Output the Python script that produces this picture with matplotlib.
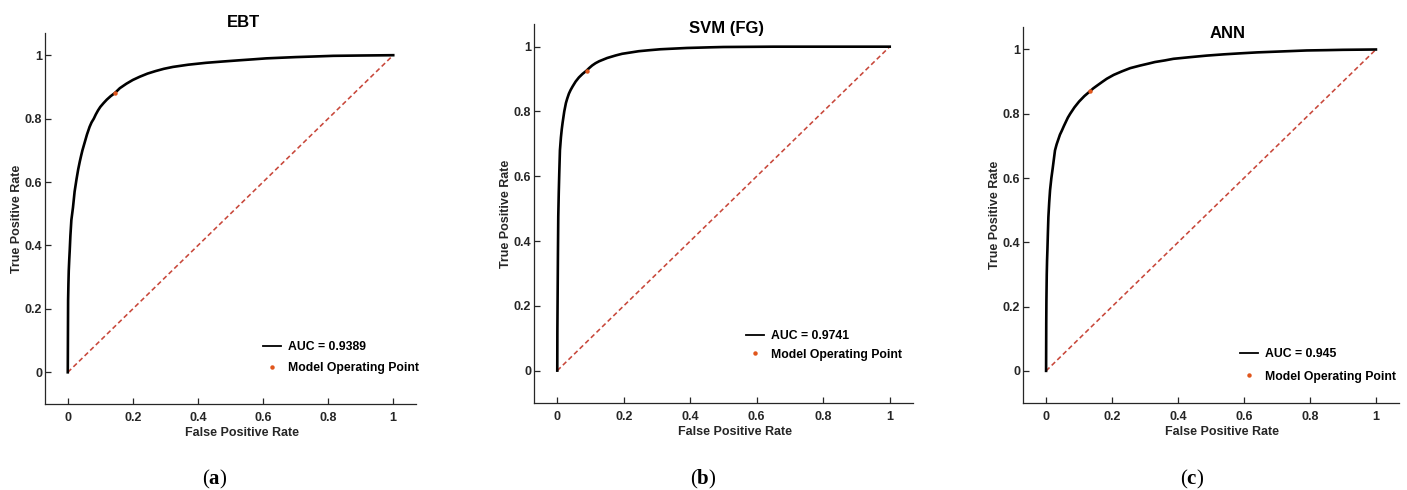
import matplotlib
matplotlib.use("Agg")
import matplotlib.pyplot as plt

plt.rcParams['font.family'] = ['Liberation Sans', 'DejaVu Sans']
plt.rcParams['mathtext.fontset'] = 'custom'
plt.rcParams['mathtext.rm'] = 'Liberation Serif'
plt.rcParams['mathtext.bf'] = 'Liberation Serif:bold'

# ---------------- data ----------------
titles = ["EBT", "SVM (FG)", "ANN"]
panel_labels = ["a", "b", "c"]
auc_values = ["0.9389", "0.9741", "0.945"]

ebt_fpr = [0, 0.0005, 0.001, 0.002, 0.003, 0.0045, 0.006, 0.008, 0.011, 0.0135, 0.016, 0.0185,
           0.021, 0.024, 0.027, 0.032, 0.037, 0.041, 0.045, 0.052, 0.059, 0.067, 0.073, 0.08,
           0.086, 0.093, 0.1, 0.11, 0.12, 0.132, 0.145, 0.16, 0.18, 0.2, 0.221, 0.245, 0.27,
           0.295, 0.323, 0.37, 0.425, 0.475, 0.528, 0.57, 0.61, 0.655, 0.70, 0.76, 0.816,
           0.86, 0.9, 0.95, 1.0]
ebt_tpr = [0, 0.12, 0.227, 0.28, 0.32, 0.355, 0.385, 0.43, 0.48, 0.50, 0.52, 0.545,
           0.57, 0.59, 0.61, 0.64, 0.665, 0.683, 0.70, 0.725, 0.75, 0.774, 0.788, 0.80,
           0.813, 0.826, 0.837, 0.849, 0.86, 0.871, 0.881, 0.896, 0.91, 0.922, 0.932, 0.942, 0.95,
           0.957, 0.963, 0.97, 0.976, 0.98, 0.984, 0.987, 0.99, 0.992, 0.994, 0.996, 0.998,
           0.9985, 0.999, 0.9995, 1.0]

svm_fpr = [0, 0.0003, 0.001, 0.002, 0.003, 0.0045, 0.006, 0.008, 0.011, 0.0135, 0.016, 0.021,
           0.026, 0.03, 0.035, 0.04, 0.046, 0.055, 0.065, 0.076, 0.088, 0.096, 0.105, 0.115,
           0.126, 0.138, 0.15, 0.163, 0.176, 0.195, 0.22, 0.245, 0.276, 0.31, 0.35, 0.39,
           0.426, 0.46, 0.5, 0.577, 0.65, 0.75, 0.85, 1.0]
svm_tpr = [0, 0.12, 0.22, 0.36, 0.476, 0.55, 0.61, 0.68, 0.72, 0.745, 0.765, 0.80,
           0.826, 0.84, 0.855, 0.866, 0.877, 0.892, 0.905, 0.916, 0.926, 0.934, 0.942, 0.949,
           0.955, 0.96, 0.965, 0.969, 0.973, 0.978, 0.982, 0.986, 0.989, 0.992, 0.994, 0.996,
           0.997, 0.998, 0.999, 0.9995, 1.0, 1.0, 1.0, 1.0]

ann_fpr = [0, 0.0005, 0.001, 0.002, 0.003, 0.004, 0.0055, 0.007, 0.0095, 0.012, 0.016, 0.02,
           0.027, 0.032, 0.037, 0.042, 0.048, 0.054, 0.06, 0.066, 0.073, 0.086, 0.1, 0.116,
           0.133, 0.143, 0.155, 0.17, 0.184, 0.205, 0.23, 0.255, 0.285, 0.31, 0.33, 0.36,
           0.386, 0.435, 0.487, 0.54, 0.588, 0.64, 0.69, 0.74, 0.79, 0.85, 0.9, 0.95, 1.0]
ann_tpr = [0, 0.15, 0.22, 0.30, 0.345, 0.376, 0.43, 0.479, 0.525, 0.562, 0.60, 0.63,
           0.686, 0.705, 0.72, 0.735, 0.748, 0.762, 0.775, 0.788, 0.80, 0.82, 0.838, 0.855,
           0.870, 0.879, 0.888, 0.899, 0.909, 0.921, 0.932, 0.942, 0.950, 0.956, 0.961, 0.966,
           0.971, 0.976, 0.981, 0.985, 0.988, 0.991, 0.993, 0.995, 0.997, 0.998, 0.999, 0.9995, 1.0]

op_fpr = [0.145, 0.088, 0.133]
op_tpr = [0.881, 0.926, 0.870]

diag = [0, 1]
xticks = [0, 0.2, 0.4, 0.6, 0.8, 1]
xticklabels = ["0", "0.2", "0.4", "0.6", "0.8", "1"]

curves = [(ebt_fpr, ebt_tpr), (svm_fpr, svm_tpr), (ann_fpr, ann_tpr)]

# ---------------- layout (pixels: left, right, top, bottom) ----------------
W, H = 1407, 490
boxes = [(45, 416, 33, 404), (534, 913, 24, 403), (1023, 1399, 27, 403)]
title_pos = [(0.534, 1.027), (0.509, 0.989), (0.545, 0.984)]
leg_pos = [(0.588, 0.125), (0.559, 0.152), (0.577, 0.0997)]
leg_spacing = [0.68, 0.55, 0.85]
sub_x = [215, 703, 1192]

fig = plt.figure(figsize=(W / 100, H / 100), dpi=100)
grey = '#262626'

for i in range(3):
    l, r, t, b = boxes[i]
    ax = fig.add_axes([l / W, (H - b) / H, (r - l) / W, (b - t) / H])
    fpr, tpr = curves[i]
    ax.plot(fpr, tpr, color='black', lw=1.9, label=f"AUC = {auc_values[i]}", zorder=3,
            solid_joinstyle='round')
    ax.plot(op_fpr[i], op_tpr[i], 'o', color='#e0561c', ms=3.2, mec='none',
            label="Model Operating Point", zorder=4)
    ax.plot(diag, diag, color='#c8473a', lw=1.15, dashes=(3.0, 1.9), zorder=2)

    ax.set_xlim(-0.07, 1.07)
    ax.set_ylim(-0.1, 1.07)
    ax.set_xticks(xticks)
    ax.set_xticklabels(xticklabels)
    ax.set_yticks(xticks)
    ax.set_yticklabels(xticklabels)
    for s in ['top', 'right']:
        ax.spines[s].set_visible(False)
    for s in ['left', 'bottom']:
        ax.spines[s].set_color(grey)
        ax.spines[s].set_linewidth(0.9)
    ax.tick_params(direction='in', length=4, width=0.9, color=grey, labelcolor=grey,
                   labelsize=9)
    ax.tick_params(axis='x', pad=6)
    ax.tick_params(axis='y', pad=2)
    for lab in ax.get_xticklabels() + ax.get_yticklabels():
        lab.set_fontweight('bold')

    ax.set_xlabel("False Positive Rate", fontsize=9, fontweight='bold', color=grey)
    ax.set_ylabel("True Positive Rate", fontsize=9, fontweight='bold', color=grey)
    ax.xaxis.set_label_coords((sum(boxes[i][:2]) / 2 + 11 - l) / (r - l), -29 / (b - t))
    ax.xaxis.label.set_va('center')
    ax.yaxis.set_label_coords(-28 / (r - l), 0.5)
    ax.yaxis.label.set_va('center')

    ax.text(title_pos[i][0], title_pos[i][1], titles[i], transform=ax.transAxes,
            ha='center', va='center', fontsize=12, fontweight='bold', color='black')

    leg = ax.legend(loc='center left', bbox_to_anchor=leg_pos[i], frameon=False,
                    borderpad=0, borderaxespad=0, handlelength=1.5, handletextpad=0.55,
                    labelspacing=leg_spacing[i], prop={'size': 8.8, 'weight': 'bold'},
                    numpoints=1)
    leg.get_lines()[0].set_linewidth(1.3)

    fig.text(sub_x[i] / W, (H - 479) / H, "($\\mathbf{" + panel_labels[i] + "}$)",
             family='Liberation Serif', fontsize=15, ha='center', va='center',
             color='black')

fig.savefig("out.png", dpi=100)
